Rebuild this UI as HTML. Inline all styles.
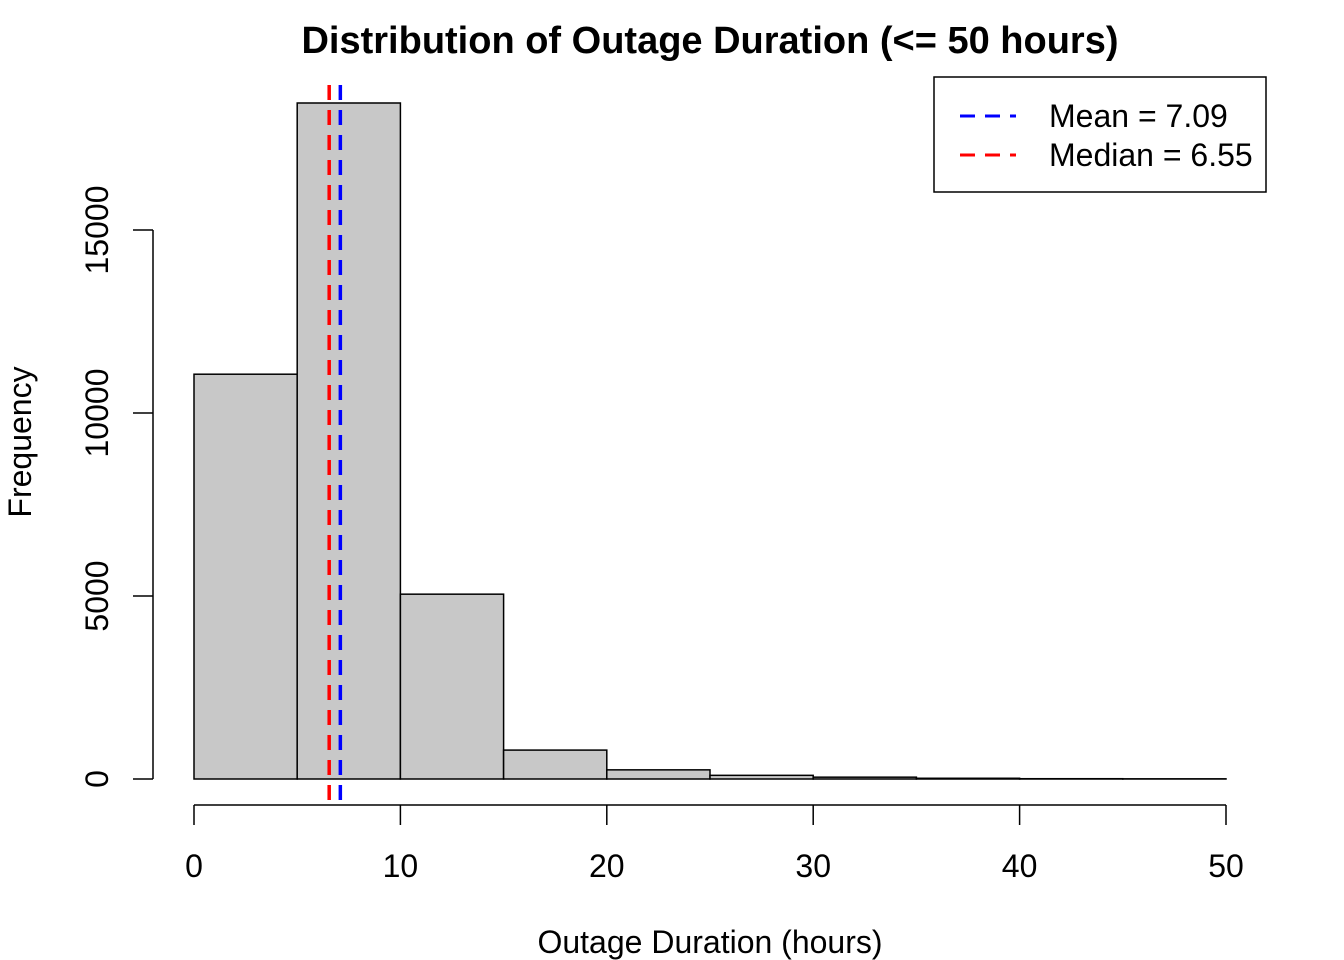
<!DOCTYPE html>
<html><head><meta charset="utf-8"><style>body{margin:0;background:#fff}svg{display:block;font-family:"Liberation Sans",Arial,sans-serif}</style></head>
<body>
<svg id="c" width="1344" height="960">
<text x="710" y="53" text-anchor="middle" font-size="38" font-weight="bold">Distribution of Outage Duration (&lt;= 50 hours)</text>
<text x="710" y="953" text-anchor="middle" font-size="32">Outage Duration (hours)</text>
<text transform="translate(31,442) rotate(-90)" text-anchor="middle" font-size="32">Frequency</text>
<g id="bars"></g><g id="axes"></g><g id="lines"></g>
<g>
<rect x="934" y="77" width="332" height="115" fill="#fff" stroke="#000" stroke-width="1.5"/>
<line x1="960" y1="116" x2="1016" y2="116" stroke="blue" stroke-width="3" stroke-dasharray="15,10"/>
<text x="1049" y="127" font-size="32">Mean = 7.09</text>
<line x1="960" y1="155" x2="1016" y2="155" stroke="red" stroke-width="3" stroke-dasharray="15,10"/>
<text x="1049" y="166" font-size="32">Median = 6.55</text>
</g>
</svg>
<script>
const binStarts=[0,5,10,15,20,25,30,35,40,45];
const counts=[11060,18470,5050,790,250,100,50,20,8,5];
const xTicks=[0,10,20,30,40,50];
const yTicks=[0,5000,10000,15000];
const meanVal=7.09, medianVal=6.55;
const binW=5;
const X=v=>194+v*(1226-194)/50;
const Y=v=>779-v*(779-230)/15000;
const NS="http://www.w3.org/2000/svg";
function mk(tag,attrs,parent,txt){const e=document.createElementNS(NS,tag);for(const k in attrs)e.setAttribute(k,attrs[k]);if(txt!==undefined)e.textContent=txt;document.getElementById(parent).appendChild(e);return e;}
binStarts.forEach((b,i)=>{
 const r=mk('rect',{x:X(b),y:Y(counts[i]),width:X(b+binW)-X(b),height:Y(0)-Y(counts[i]),fill:'#c8c8c8',stroke:'#000','stroke-width':1.5},'bars');
 
 
});
let a=mk('line',{x1:X(0),x2:X(50),y1:805,y2:805,stroke:'#000','stroke-width':1.5},'axes');


xTicks.forEach(t=>{
 mk('line',{x1:X(t),x2:X(t),y1:805,y2:825,stroke:'#000','stroke-width':1.5},'axes');
 const l=mk('text',{x:X(t),y:877,'text-anchor':'middle','font-size':32},'axes',t);
 
 
});
a=mk('line',{x1:153,x2:153,y1:Y(0),y2:Y(15000),stroke:'#000','stroke-width':1.5},'axes');


yTicks.forEach(t=>{
 mk('line',{x1:133,x2:153,y1:Y(t),y2:Y(t),stroke:'#000','stroke-width':1.5},'axes');
 const l=mk('text',{transform:`translate(108,${Y(t)}) rotate(-90)`,'text-anchor':'middle','font-size':32},'axes',t);
 
 
});
[[medianVal,'red','median-line'],[meanVal,'blue','mean-line']].forEach(([v,c,n])=>{
 const l=mk('line',{x1:X(v),x2:X(v),y1:85,y2:805,stroke:c,'stroke-width':3.5,'stroke-dasharray':'15,10'},'lines');
 
 
});
</script>
</body></html>
